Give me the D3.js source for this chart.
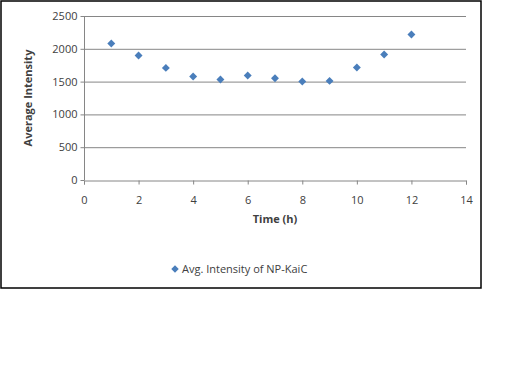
<!DOCTYPE html>
<html>
<head>
<meta charset="utf-8">
<script src="https://cdn.jsdelivr.net/npm/d3@7"></script>
<style>
  body { margin: 0; background: #fff; }
  text { font-family: "Open Sans", "Liberation Sans", sans-serif; fill: #404040; }
</style>
</head>
<body>
<script>
const w = 512;
const h = 384;

// data
const hours = [1, 2, 3, 4, 5, 6, 7, 8, 9, 10, 11, 12];
const intensity = [2080, 1897, 1709, 1578, 1532, 1593, 1552, 1502, 1511, 1715, 1912, 2217];
const xTicks = [0, 2, 4, 6, 8, 10, 12, 14];
const yTicks = [0, 500, 1000, 1500, 2000, 2500];
const seriesName = "Avg. Intensity of NP-KaiC";

const plotLeft = 84, plotRight = 466, plotTop = 16, plotBottom = 180;
const dotColor = "#4A7EBB";

var svg = d3.select("body")
            .append("svg")
            .attr("width", w)
            .attr("height", h);

// chart frame
svg.append("rect")
   .attr("x", 1)
   .attr("y", 1)
   .attr("width", 480)
   .attr("height", 287)
   .attr("fill", "none")
   .attr("stroke", "#000")
   .attr("stroke-width", 1.5);

const xScale = d3.scaleLinear()
                 .domain([0, 14])
                 .range([plotLeft, plotRight]);

const yScale = d3.scaleLinear()
                 .domain([0, 2500])
                 .range([plotBottom, plotTop]);

// gridlines
svg.append("g")
   .selectAll("line")
   .data(yTicks.slice(1))
   .enter()
   .append("line")
   .attr("x1", plotLeft)
   .attr("x2", plotRight)
   .attr("y1", d => yScale(d) + 0.5)
   .attr("y2", d => yScale(d) + 0.5)
   .attr("stroke", "#868686");

const xAxis = d3.axisBottom(xScale)
                .tickValues(xTicks)
                .tickSize(4)
                .tickPadding(12)
                .tickFormat(d3.format("d"));

const yAxis = d3.axisLeft(yScale)
                .tickValues(yTicks)
                .tickSize(4)
                .tickPadding(3)
                .tickFormat(d3.format("d"));

const gx = svg.append("g")
   .attr("transform", "translate(0," + (plotBottom + 0.5) + ")")
   .call(xAxis);

const gy = svg.append("g")
   .attr("transform", "translate(" + (plotLeft + 0.5) + ",0)")
   .call(yAxis);

[gx, gy].forEach(g => {
  g.selectAll("path, line").attr("stroke", "#868686");
  g.selectAll("text").attr("font-size", 11).attr("fill", "#404040")
   .style("font-family", "'Open Sans', sans-serif");
});
gy.select(".domain").attr("d", "M0," + plotTop + "V" + plotBottom);

// points
svg.append("g")
   .selectAll("path")
   .data(hours)
   .enter()
   .append("path")
   .attr("d", d3.symbol().type(d3.symbolDiamond2).size(40))
   .attr("transform", (d, i) => "translate(" + xScale(d) + "," + yScale(intensity[i]) + ")")
   .attr("fill", dotColor);

// axis titles
svg.append("text")
   .text("Time (h)")
   .attr("x", 275)
   .attr("y", 223)
   .attr("text-anchor", "middle")
   .attr("font-size", 11)
   .attr("font-weight", "bold");

svg.append("text")
   .text("Average Intensity")
   .attr("transform", "translate(32," + ((plotTop + plotBottom) / 2) + ") rotate(-90)")
   .attr("text-anchor", "middle")
   .attr("font-size", 11)
   .attr("font-weight", "bold");

// legend
svg.append("path")
   .attr("d", d3.symbol().type(d3.symbolDiamond2).size(36))
   .attr("transform", "translate(175,269)")
   .attr("fill", dotColor);

svg.append("text")
   .text(seriesName)
   .attr("x", 182)
   .attr("y", 273)
   .attr("font-size", 11);
</script>
</body>
</html>
